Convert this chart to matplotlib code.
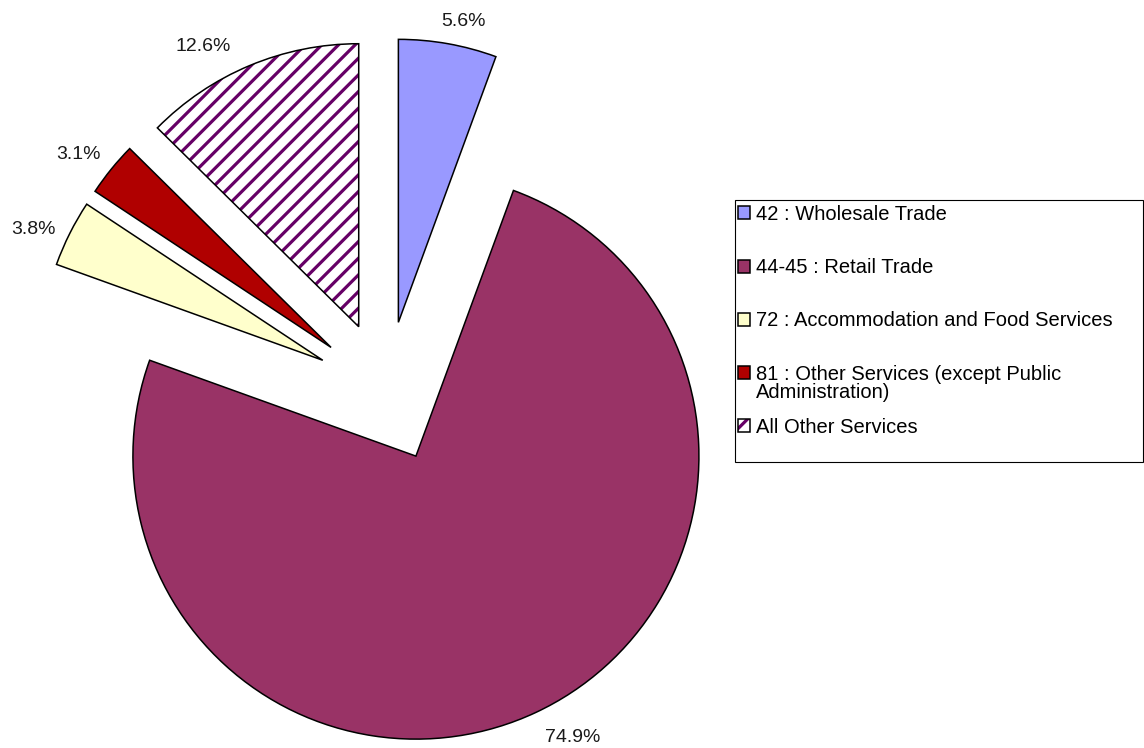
import matplotlib
matplotlib.use("Agg")
import matplotlib.pyplot as plt
from matplotlib.patches import Patch, Wedge, Rectangle

plt.rcParams['font.family'] = ['Liberation Sans', 'DejaVu Sans']

labels = ['42 : Wholesale Trade', '44-45 : Retail Trade', '72 : Accommodation and Food Services',
          '81 : Other Services (except Public\nAdministration)', 'All Other Services']
values = [5.6, 74.9, 3.8, 3.1, 12.6]
colors = ['#9999FF', '#993366', '#FFFFCC', '#B00000', 'white']
hatches = [None, None, None, None, '//']
hatch_col = '#660066'

W, H = 1144, 748
cx, cy, R = 386, 392, 283  # pixel center / radius

# label nudges in pixels (x right, y down), to mimic Excel placement
nudges = [(10, 8), (24, -3), (-9, 10), (-9, 5), (-34, 10)]

fig = plt.figure(figsize=(W / 100, H / 100), dpi=100)
ax = fig.add_axes([0, 0, 1, 1])

plt.rcParams['hatch.linewidth'] = 2.3
wedges, texts, autotexts = ax.pie(values, colors=colors, startangle=90, counterclock=False,
                                  explode=[0.25] * 5, autopct='%1.1f%%', pctdistance=1.11,
                                  wedgeprops=dict(edgecolor='black', linewidth=1.1),
                                  textprops=dict(fontsize=14, color='#1a1a1a'))
for w, h in zip(wedges, hatches):
    if h:
        w.set_hatch(h)
        w.set_edgecolor(hatch_col)
        w.set_linewidth(0)
        ax.add_patch(Wedge(w.center, w.r, w.theta1, w.theta2, fill=False,
                           edgecolor='black', linewidth=1.1))

for t, (dx, dy) in zip(autotexts, nudges):
    x, y = t.get_position()
    t.set_position((x + dx / R, y - dy / R))

# pie() resets the limits, so set them afterwards
ax.set_xlim(-cx / R, (W - cx) / R)
ax.set_ylim(-(H - cy) / R, cy / R)
ax.axis('off')

handles = []
for c, h in zip(colors, hatches):
    if h:
        handles.append((Patch(facecolor=c, edgecolor=hatch_col, hatch='//', linewidth=0),
                        Patch(fill=False, edgecolor='black', linewidth=1.1)))
    else:
        handles.append(Patch(facecolor=c, edgecolor='black', linewidth=1.1))

# Excel spaces legend rows by their first line; wrapped lines spill into the gap
leg_fs = 14.5
first_lines = [l.split('\n')[0] for l in labels]
leg = fig.legend(handles, first_lines, loc='upper left',
                 bbox_to_anchor=(738 / W, 1 - 205 / H), frameon=False,
                 fontsize=leg_fs, handlelength=0.62, handleheight=0.62, handletextpad=0.25,
                 labelspacing=1.7, borderpad=0, borderaxespad=0)
fig.add_artist(Rectangle((735 / W, 1 - 462 / H), 408 / W, 262 / H, transform=fig.transFigure,
                         fill=False, edgecolor='black', linewidth=0.8))

fig.canvas.draw()
for lab, t in zip(labels, leg.get_texts()):
    extra = lab.split('\n')[1:]
    if extra:
        bb = t.get_window_extent()
        fig.text(bb.x0 / W, (bb.y0 + 1) / H, '\n'.join(extra), fontsize=leg_fs,
                 ha='left', va='top')

fig.savefig('out.png', dpi=100)
